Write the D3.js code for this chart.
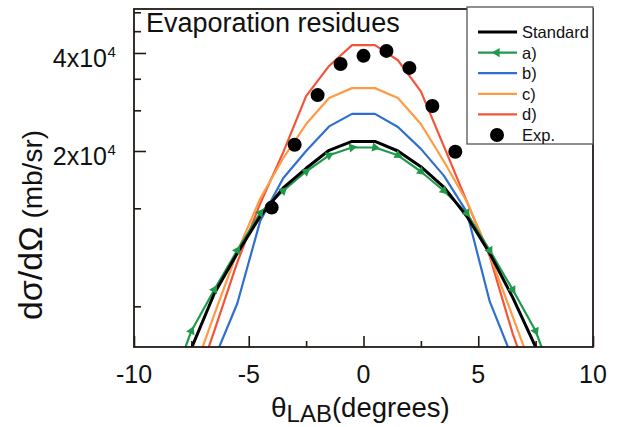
<!DOCTYPE html>
<html>
<head>
<meta charset="utf-8">
<script src="https://cdn.jsdelivr.net/npm/d3@7"></script>
<style>
  html, body { margin: 0; padding: 0; background: #fff; }
  svg { display: block; font-family: "Liberation Sans", Arial, Helvetica, sans-serif; }
</style>
</head>
<body>
<svg id="chart" width="617" height="427"></svg>
<script>
// ---- data ----
const theta = [-8.5, -7.5, -6.5, -5.5, -4.5, -3.5, -2.5, -1.5, -0.5, 0.5, 1.5, 2.5, 3.5, 4.5, 5.5, 6.5, 7.5, 8.5];
const standard = [3500, 4950, 7300, 9700, 12600, 15400, 17700, 20100, 21400, 21400, 20000, 17900, 15500, 12600, 9700, 7100, 5000, 3400];
const seriesA  = [3600, 5600, 7500, 9900, 12900, 15100, 17300, 19400, 20500, 20500, 19400, 17300, 15100, 12900, 9900, 7500, 5600, 3600];
const seriesB  = [2000, 3000, 4600, 6800, 12200, 16500, 20000, 23800, 26000, 26000, 23700, 20300, 16800, 13000, 6900, 4600, 3000, 2000];
const seriesC  = [2500, 4000, 6300, 9800, 14300, 19000, 24200, 29100, 31200, 31200, 29100, 24200, 18600, 14000, 9600, 6200, 4000, 2500];
const seriesD  = [2200, 3500, 5600, 9100, 13800, 19800, 29500, 36500, 42300, 42300, 38000, 30500, 20700, 14000, 9500, 5500, 3500, 2200];
const expTheta  = [-4, -3, -2, -1, 0, 1, 2, 3, 4];
const expValues = [13400, 20900, 29700, 37000, 39200, 40600, 36000, 27500, 19900];

const seriesNames = ["Standard", "a)", "b)", "c)", "d)"];
const seriesColors = ["#000000", "#1f9a4c", "#2f6fcf", "#ff9a45", "#f2553a"];
const seriesData = [standard, seriesA, seriesB, seriesC, seriesD];

const xTicksMajor = [-10, -5, 0, 5, 10];
const xTicksMinor = [-7.5, -2.5, 2.5, 7.5];
const yTicksMajor = [20000, 40000];
const yTickMantissa = ["2x10", "4x10"];
const yTickExponent = "4";
const yTicksMinor = [6667, 13333, 26667, 33333, 46667, 53333];

// ---- layout ----
const L = 134, R = 593, T = 9, B = 347;
const svg = d3.select("#chart");
const x = d3.scaleLinear().domain([-10, 10]).range([L, R]);
const y = d3.scaleLog().domain([5000, 54600]).range([B, T]);
const frameColor = "#231a16";

svg.append("defs").append("clipPath").attr("id", "clip")
  .append("rect").attr("x", L).attr("y", T).attr("width", R - L).attr("height", B - T);

// axes via d3 axis generators (ticks inward)
const xAxisMajor = d3.axisBottom(x).tickValues(xTicksMajor).tickSize(-11).tickFormat("");
const xAxisMinor = d3.axisBottom(x).tickValues(xTicksMinor).tickSize(-6).tickFormat("");
const yAxisMajor = d3.axisLeft(y).tickValues(yTicksMajor).tickSize(-12).tickFormat("");
const yAxisMinor = d3.axisLeft(y).tickValues(yTicksMinor).tickSize(-7).tickFormat("");

[[xAxisMajor, `translate(0,${B})`], [xAxisMinor, `translate(0,${B})`],
 [yAxisMajor, `translate(${L},0)`], [yAxisMinor, `translate(${L},0)`]].forEach(([ax, tr]) => {
  const g = svg.append("g").attr("transform", tr).call(ax);
  g.select(".domain").remove();
  g.selectAll("line").attr("stroke", frameColor).attr("stroke-width", 1.6);
});

// x tick labels
svg.append("g").selectAll("text").data(xTicksMajor).join("text")
  .attr("x", d => x(d)).attr("y", 383)
  .attr("text-anchor", "middle").attr("font-size", 25).attr("fill", "#111")
  .text(d => d);

// y tick labels with superscript
yTicksMajor.forEach((v, i) => {
  const yy = y(v);
  svg.append("text").attr("x", 107).attr("y", yy + 14.5)
    .attr("text-anchor", "end").attr("font-size", 25).attr("fill", "#111")
    .text(yTickMantissa[i]);
  svg.append("text").attr("x", 107.5).attr("y", yy + 4.5)
    .attr("text-anchor", "start").attr("font-size", 15).attr("fill", "#111")
    .text(yTickExponent);
});

// axis titles
const xt = svg.append("text").attr("x", 271).attr("y", 417).attr("font-size", 28).attr("fill", "#111");
xt.append("tspan").text("θ");
xt.append("tspan").attr("font-size", 24).attr("dy", 5).text("LAB");
xt.append("tspan").attr("dy", -5).attr("font-size", 27.5).text("(degrees)");

const yt = svg.append("text").attr("transform", "translate(42,225) rotate(-90)")
  .attr("text-anchor", "middle").attr("fill", "#111");
yt.append("tspan").attr("font-size", 34).text("dσ/dΩ");
yt.append("tspan").attr("font-size", 28).text(" (mb/sr)");

// curves
const plot = svg.append("g").attr("clip-path", "url(#clip)");
const line = d3.line().x((d, i) => x(theta[i])).y(d => y(d));
const drawOrder = [4, 3, 2, 1, 0];
drawOrder.forEach(k => {
  plot.append("path").datum(seriesData[k])
    .attr("fill", "none").attr("stroke", seriesColors[k])
    .attr("stroke-width", k === 0 ? 3 : 2.2)
    .attr("stroke-linejoin", "round")
    .attr("d", line);
});

// green markers (triangles oriented along the curve)
const tri = d3.symbol().type(d3.symbolTriangle).size(36);
seriesA.forEach((v, i) => {
  const px = x(theta[i]), py = y(v);
  const i0 = Math.max(0, i - 1), i1 = Math.min(theta.length - 1, i + 1);
  const dx = x(theta[i1]) - x(theta[i0]), dy = y(seriesA[i1]) - y(seriesA[i0]);
  let ang = Math.atan2(dy, dx) * 180 / Math.PI + 90;
  if (Math.abs(dy) < 1) ang = -90;
  plot.append("path").attr("d", tri)
    .attr("transform", `translate(${px},${py}) rotate(${ang})`)
    .attr("fill", seriesColors[1]);
});

// experimental points
plot.append("g").selectAll("circle").data(expValues).join("circle")
  .attr("cx", (d, i) => x(expTheta[i])).attr("cy", d => y(d))
  .attr("r", 7).attr("fill", "#000");

// frame
svg.append("rect").attr("x", L).attr("y", T).attr("width", R - L).attr("height", B - T)
  .attr("fill", "none").attr("stroke", frameColor).attr("stroke-width", 1.8);

// title
svg.append("text").attr("x", 146).attr("y", 32).attr("font-size", 27).attr("fill", "#111")
  .text("Evaporation residues");

// legend
const lg = svg.append("g");
lg.append("rect").attr("x", 467).attr("y", 7).attr("width", 126).attr("height", 137)
  .attr("fill", "#fff").attr("stroke", "#555").attr("stroke-width", 1.3);
const rowY = d3.scaleLinear().domain([0, 5]).range([32, 135]);
const legendLabels = seriesNames.concat(["Exp."]);
legendLabels.forEach((name, i) => {
  const cy = rowY(i);
  if (i < 5) {
    lg.append("line").attr("x1", 478).attr("x2", 517).attr("y1", cy).attr("y2", cy)
      .attr("stroke", seriesColors[i]).attr("stroke-width", i === 0 ? 3 : 2.2);
    if (i === 1) {
      lg.append("path").attr("d", tri).attr("transform", `translate(497,${cy}) rotate(-90)`)
        .attr("fill", seriesColors[1]);
    }
  } else {
    lg.append("circle").attr("cx", 497).attr("cy", cy).attr("r", 7).attr("fill", "#000");
  }
  lg.append("text").attr("x", 522).attr("y", cy + 6).attr("font-size", 16.5).attr("fill", "#111")
    .text(name);
});
</script>
</body>
</html>
